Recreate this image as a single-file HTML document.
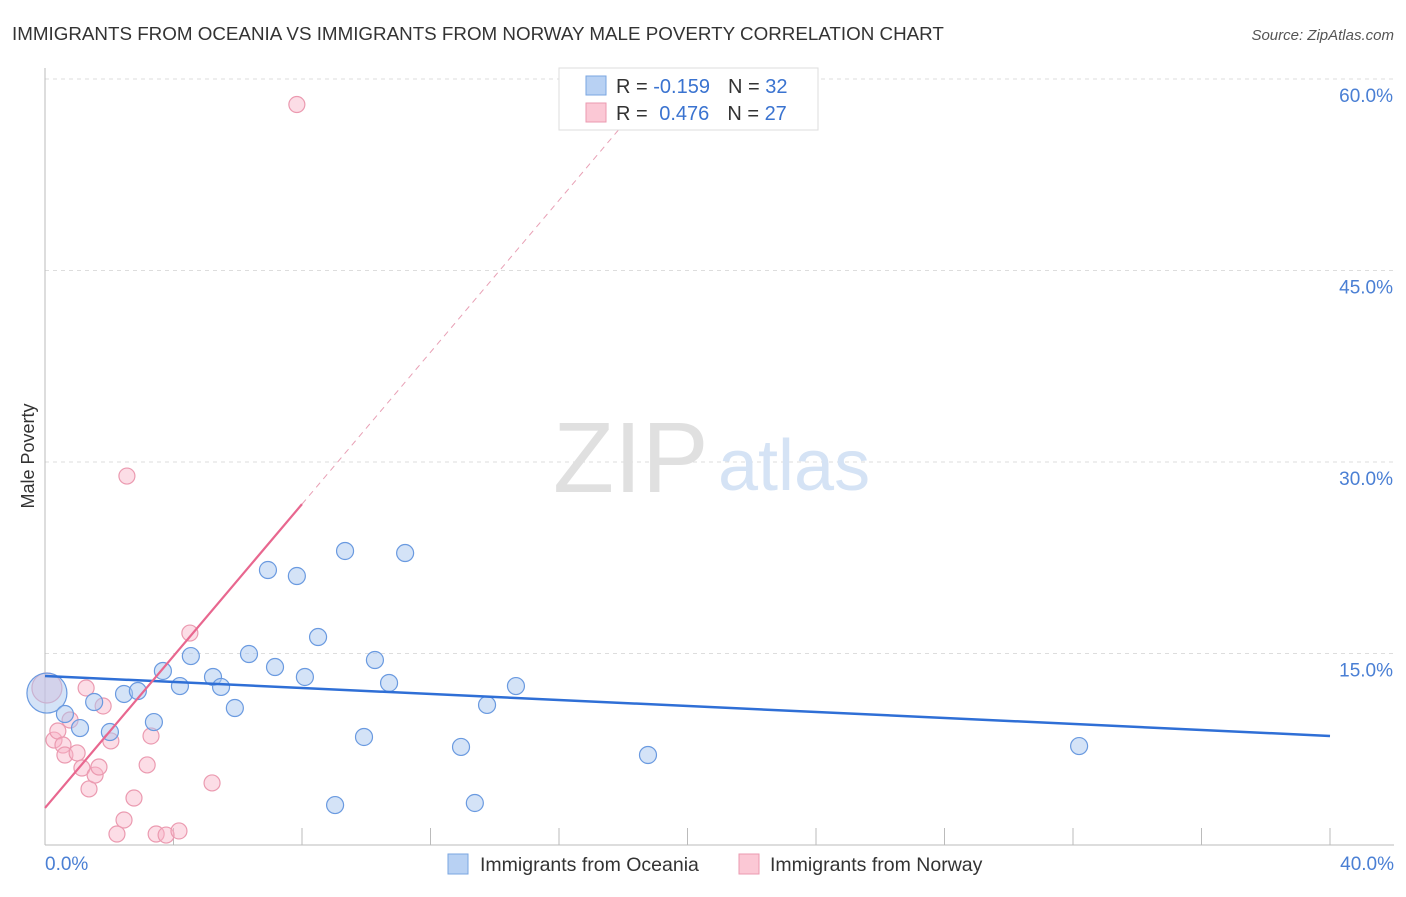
<!DOCTYPE html>
<html><head><meta charset="utf-8"><style>
body{margin:0;background:#fff;font-family:"Liberation Sans",sans-serif;}
svg text{font-family:"Liberation Sans",sans-serif;}
</style></head><body>
<svg width="1406" height="892" xmlns="http://www.w3.org/2000/svg">
<text x="12" y="40" font-size="18.8" fill="#333">IMMIGRANTS FROM OCEANIA VS IMMIGRANTS FROM NORWAY MALE POVERTY CORRELATION CHART</text>
<text x="1394" y="40" font-size="15" fill="#555" font-style="italic" text-anchor="end">Source: ZipAtlas.com</text>
<g id="grid"></g>
<text x="553" y="492" font-size="100" fill="#e0e0e0" font-family="Liberation Serif">ZIP</text>
<text x="718" y="490" font-size="72" fill="#d5e3f5">atlas</text>
<g id="marks"></g>
<text x="34" y="456" font-size="18" fill="#333" transform="rotate(-90 34 456)" text-anchor="middle">Male Poverty</text>
<text x="45" y="870" font-size="19" fill="#4a7fd4">0.0%</text>
<text x="1394" y="870" font-size="19" fill="#4a7fd4" text-anchor="end">40.0%</text>
<g>
<rect x="559" y="68" width="259" height="62" fill="#fff" stroke="#ddd"/>
<rect x="586" y="76" width="20" height="19" fill="#b8d1f3" stroke="#7aa6e0"/>
<text x="616" y="93" font-size="20" fill="#333">R = <tspan fill="#3a73d0">-0.159</tspan><tspan dx="18">N = </tspan><tspan fill="#3a73d0">32</tspan></text>
<rect x="586" y="103" width="20" height="19" fill="#fbc8d5" stroke="#eb9ab0"/>
<text x="616" y="120" font-size="20" fill="#333">R = <tspan fill="#3a73d0" dx="6">0.476</tspan><tspan dx="18">N = </tspan><tspan fill="#3a73d0">27</tspan></text>
</g>
<g>
<rect x="448" y="854" width="20" height="20" fill="#b8d1f3" stroke="#7aa6e0"/>
<text x="480" y="871" font-size="19.5" fill="#333">Immigrants from Oceania</text>
</g>
<g>
<rect x="739" y="854" width="20" height="20" fill="#fbc8d5" stroke="#eb9ab0"/>
<text x="770" y="871" font-size="19.5" fill="#333">Immigrants from Norway</text>
</g>
</svg>
<script>
const yTicks=[15,30,45,60];
const yTickLabels=["15.0%","30.0%","45.0%","60.0%"];
const xTicks=[4,8,12,16,20,24,28,32,36,40];
const oceaniaX=[0.06,0.62,1.09,1.53,2.02,2.46,2.89,3.39,3.67,4.2,4.54,5.23,5.48,5.91,6.35,6.94,7.16,7.84,8.09,8.5,9.03,9.34,9.93,10.27,10.71,11.21,12.95,13.38,13.76,14.66,18.77,32.19];
const oceaniaY=[11.9,10.26,9.16,11.2,8.85,11.83,12.06,9.63,13.63,12.45,14.8,13.16,12.38,10.73,14.96,21.54,13.94,21.07,13.16,16.29,3.13,23.03,8.46,14.49,12.69,22.87,7.68,3.29,10.97,12.45,7.05,7.75];
const norwayX=[0.06,0.28,0.4,0.56,0.62,0.78,1.0,1.15,1.28,1.37,1.56,1.68,1.81,2.05,2.24,2.46,2.55,2.77,3.18,3.3,3.46,3.77,4.17,4.51,5.2,7.84];
const norwayY=[12.3,8.22,8.93,7.83,7.05,9.79,7.21,6.03,12.3,4.39,5.48,6.11,10.89,8.15,0.86,1.96,28.9,3.68,6.27,8.54,0.86,0.78,1.1,16.6,4.86,58.0];
const oceaniaTrend=[13.24,-0.1175]; // intercept, slope
const norwayTrend=[2.9,2.975];
const NS="http://www.w3.org/2000/svg";
const X=v=>45+v/40*1285, Y=v=>845-v/15*191.5;
function mk(t,a,p){const e=document.createElementNS(NS,t);for(const k in a)e.setAttribute(k,a[k]);p.appendChild(e);return e;}
const g=document.getElementById('grid'), m=document.getElementById('marks');
yTicks.forEach((t,i)=>{
 const l=mk('line',{x1:45,x2:1394,y1:Y(t),y2:Y(t),stroke:'#ddd','stroke-dasharray':'4,4'},g);
 
 
 const tx=mk('text',{x:1393,y:Y(t)+23,'font-size':19,fill:'#4a7fd4','text-anchor':'end'},g);
 tx.textContent=yTickLabels[i];
 
 
});
const ax=mk('line',{x1:45,x2:45,y1:68,y2:845,stroke:'#bbb'},g);


const bx=mk('line',{x1:45,x2:1394,y1:845,y2:845,stroke:'#bbb'},g);


xTicks.forEach(t=>{
 const l=mk('line',{x1:X(t),x2:X(t),y1:828,y2:845,stroke:'#bbb'},g);
 
 
});
function dot(x,y,r,fill,stroke,name){
 const c=mk('circle',{cx:X(x),cy:Y(y),r:r,fill:fill,stroke:stroke,'stroke-width':1.2},m);
 
 
}
norwayX.forEach((x,i)=>dot(x,norwayY[i],i==0?15:8,'rgba(248,180,200,0.45)','#eb9ab0','norway-point'));
oceaniaX.forEach((x,i)=>dot(x,oceaniaY[i],i==0?20:8.5,'rgba(170,200,240,0.5)','#6a9ae0','oceania-point'));
const ol=mk('line',{x1:X(0),y1:Y(oceaniaTrend[0]),x2:X(40),y2:Y(oceaniaTrend[0]+40*oceaniaTrend[1]),stroke:'#2f6fd6','stroke-width':2.5},m);


const nl=mk('line',{x1:X(0),y1:Y(norwayTrend[0]),x2:X(8),y2:Y(norwayTrend[0]+8*norwayTrend[1]),stroke:'#e8678f','stroke-width':2.2},m);


const xe=(58-norwayTrend[0])/norwayTrend[1];
const nd=mk('line',{x1:X(8),y1:Y(norwayTrend[0]+8*norwayTrend[1]),x2:X(xe),y2:Y(58),stroke:'#e8a0b5','stroke-width':1,'stroke-dasharray':'6,5'},m);


</script>
</body></html>
